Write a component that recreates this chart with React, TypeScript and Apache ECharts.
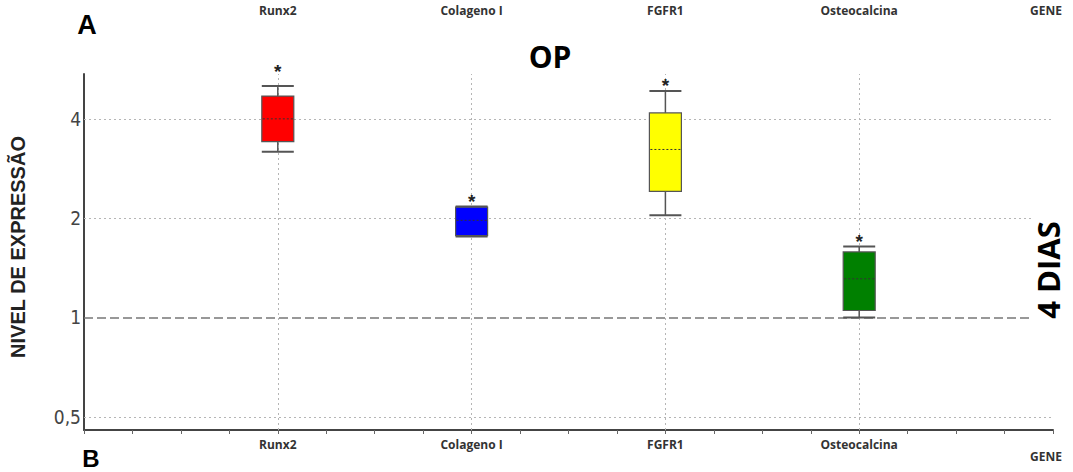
import React, { useEffect, useRef } from 'react';
import * as echarts from 'echarts';

const genes = ['Runx2', 'Colageno I', 'FGFR1', 'Osteocalcina'];
const genePositions = [1, 2, 3, 4];
const lowerWhisker = [3.18, 1.76, 2.04, 1.0];
const lowerQuartile = [3.41, 1.77, 2.41, 1.05];
const medians = [4.0, 1.97, 3.23, 1.31];
const upperQuartile = [4.69, 2.16, 4.17, 1.58];
const upperWhisker = [5.03, 2.17, 4.86, 1.64];
const starLevels = [5.74, 2.31, 5.18, 1.75];
const boxColors = ['#ff0000', '#0000ff', '#ffff00', '#008000'];
const yTickValues = [0.5, 1, 2, 4];
const dottedGridValues = [0.5, 2, 4];
const referenceLevel = 1;
const axisEndLabel = 'GENE';
const yAxisTitle = 'NIVEL DE EXPRESSÃO';
const chartTitle = 'OP';
const sideTitle = '4 DIAS';

const LABEL_FONT = '"Open Sans", "Noto Sans", sans-serif';

export default function App() {
  const ref = useRef<HTMLDivElement>(null);

  useEffect(() => {
    if (!ref.current) return;
    const chart = echarts.init(ref.current, undefined, { renderer: 'svg' });

    const boxData = genePositions.map((x, i) => [
      x,
      lowerWhisker[i],
      lowerQuartile[i],
      medians[i],
      upperQuartile[i],
      upperWhisker[i],
      starLevels[i],
    ]);

    const xLabel = (v: number) => {
      if (v >= 1 && v <= 4 && Math.abs(v - Math.round(v)) < 1e-6) return genes[Math.round(v) - 1];
      if (Math.abs(v - 5) < 1e-6) return '{g|' + axisEndLabel + '}';
      return '';
    };

    const option: any = {
      animation: false,
      backgroundColor: '#ffffff',
      grid: { left: 84, right: 20, top: 74, bottom: 42, containLabel: false },
      xAxis: [
        {
          type: 'value',
          min: 0,
          max: 5,
          interval: 1,
          position: 'bottom',
          axisLine: { show: true, lineStyle: { color: '#444', width: 2 } },
          axisTick: { show: true, length: 4, lineStyle: { color: '#666' } },
          minorTick: { show: true, splitNumber: 4, length: 4, lineStyle: { color: '#666' } },
          splitLine: { show: false },
          axisLabel: {
            margin: 8,
            fontFamily: LABEL_FONT,
            fontWeight: 'bold',
            fontSize: 12,
            color: '#333',
            showMinLabel: true,
            showMaxLabel: true,
            formatter: xLabel,
            rich: {
              g: { fontFamily: LABEL_FONT, fontWeight: 'bold', fontSize: 12, color: '#333', padding: [12, 14, 0, 0] },
            },
          },
        },
        {
          type: 'value',
          min: 0,
          max: 5,
          interval: 1,
          position: 'top',
          axisLine: { show: false },
          axisTick: { show: false },
          splitLine: { show: false },
          axisLabel: {
            margin: 58,
            fontFamily: LABEL_FONT,
            fontWeight: 'bold',
            fontSize: 12,
            color: '#333',
            formatter: (v: number) => {
              const t = xLabel(v);
              return t.indexOf('{g|') === 0 ? '{g|' + axisEndLabel + '}' : t;
            },
            rich: {
              g: { fontFamily: LABEL_FONT, fontWeight: 'bold', fontSize: 12, color: '#333', padding: [0, 14, 0, 0] },
            },
          },
        },
      ],
      yAxis: {
        type: 'log',
        logBase: 2,
        min: 0.456,
        max: 5.47,
        name: yAxisTitle,
        nameLocation: 'middle',
        nameRotate: 90,
        nameGap: 56,
        nameTextStyle: {
          fontFamily: '"Liberation Sans", Arial, sans-serif',
          fontWeight: 'bold',
          fontSize: 20,
          color: '#222',
          padding: [0, 0, 0, 10],
        },
        axisLine: { show: true, lineStyle: { color: '#444', width: 2 } },
        axisTick: { show: false },
        splitLine: { show: false },
        axisLabel: {
          margin: 3,
          fontFamily: '"Liberation Sans Narrow", "DejaVu Sans Condensed", "Liberation Sans", sans-serif',
          fontSize: 19,
          color: '#444',
          showMinLabel: false,
          showMaxLabel: false,
          formatter: (v: number) => {
            const r = Math.round(v * 1000) / 1000;
            return yTickValues.includes(r) ? String(r).replace('.', ',') : '';
          },
        },
      },
      graphic: [
        {
          type: 'text',
          x: 87,
          y: 25,
          style: {
            text: 'A',
            font: 'bold 27px "Liberation Sans", Arial, sans-serif',
            fill: '#000',
            align: 'center',
            verticalAlign: 'middle',
          },
        },
        {
          type: 'text',
          x: 91,
          y: 458,
          style: {
            text: 'B',
            font: 'bold 24px "Liberation Sans", Arial, sans-serif',
            fill: '#000',
            align: 'center',
            verticalAlign: 'middle',
          },
        },
        {
          type: 'text',
          x: 550,
          y: 56,
          style: {
            text: chartTitle,
            font: 'bold 30px "Open Sans", sans-serif',
            fill: '#000',
            align: 'center',
            verticalAlign: 'middle',
          },
        },
        {
          type: 'text',
          x: 1048,
          y: 270,
          rotation: Math.PI / 2,
          z: 10,
          style: {
            text: sideTitle,
            font: 'bold 31px "Open Sans", sans-serif',
            fill: '#000',
            align: 'center',
            verticalAlign: 'middle',
            backgroundColor: '#ffffff',
            padding: [0, 4, 0, 4],
          },
        },
      ],
      series: [
        {
          type: 'line',
          data: [],
          z: 1,
          silent: true,
          markLine: {
            silent: true,
            symbol: 'none',
            label: { show: false },
            data: [
              ...dottedGridValues.map((v) => ({
                yAxis: v,
                lineStyle: { color: '#b5b5b5', type: [2, 3], width: 1 },
              })),
              {
                yAxis: referenceLevel,
                lineStyle: { color: '#777', type: [9, 4], width: 1.6 },
              },
              ...genePositions.map((x) => ({
                xAxis: x,
                lineStyle: { color: '#b5b5b5', type: [2, 3], width: 1 },
              })),
            ],
          },
        },
        {
          type: 'custom',
          z: 5,
          clip: false,
          data: boxData,
          encode: { x: 0, y: [1, 2, 3, 4, 5] },
          renderItem: (params: any, api: any) => {
            const i = params.dataIndex;
            const x = api.value(0);
            const pLow = api.coord([x, api.value(1)]);
            const pQ1 = api.coord([x, api.value(2)]);
            const pMed = api.coord([x, api.value(3)]);
            const pQ3 = api.coord([x, api.value(4)]);
            const pHigh = api.coord([x, api.value(5)]);
            const pStar = api.coord([x, api.value(6)]);
            const cx = pLow[0];
            const half = 16;
            const whisker = { stroke: '#555', lineWidth: 1.5 };
            const cap = { stroke: '#555', lineWidth: 2 };
            return {
              type: 'group',
              children: [
                { type: 'line', shape: { x1: cx, y1: pQ3[1], x2: cx, y2: pHigh[1] }, style: whisker },
                { type: 'line', shape: { x1: cx, y1: pQ1[1], x2: cx, y2: pLow[1] }, style: whisker },
                { type: 'line', shape: { x1: cx - half, y1: pHigh[1], x2: cx + half, y2: pHigh[1] }, style: cap },
                { type: 'line', shape: { x1: cx - half, y1: pLow[1], x2: cx + half, y2: pLow[1] }, style: cap },
                {
                  type: 'rect',
                  shape: { x: cx - half, y: pQ3[1], width: half * 2, height: pQ1[1] - pQ3[1] },
                  style: { fill: boxColors[i], stroke: '#555', lineWidth: 1.2 },
                },
                {
                  type: 'line',
                  shape: { x1: cx - half + 1, y1: pMed[1], x2: cx + half - 1, y2: pMed[1] },
                  style: { stroke: '#333', lineWidth: 1, lineDash: [2, 2] },
                },
                {
                  type: 'text',
                  x: cx,
                  y: pStar[1] + 4,
                  style: {
                    text: '*',
                    font: 'bold 19px "Liberation Sans", Arial, sans-serif',
                    fill: '#222',
                    align: 'center',
                    verticalAlign: 'middle',
                  },
                },
              ],
            };
          },
        },
      ],
    };

    chart.setOption(option);
    return () => chart.dispose();
  }, []);

  return (
    <div
      ref={ref}
      style={{ position: 'fixed', left: 0, top: 0, width: 1073, height: 472, background: '#fff' }}
    />
  );
}
